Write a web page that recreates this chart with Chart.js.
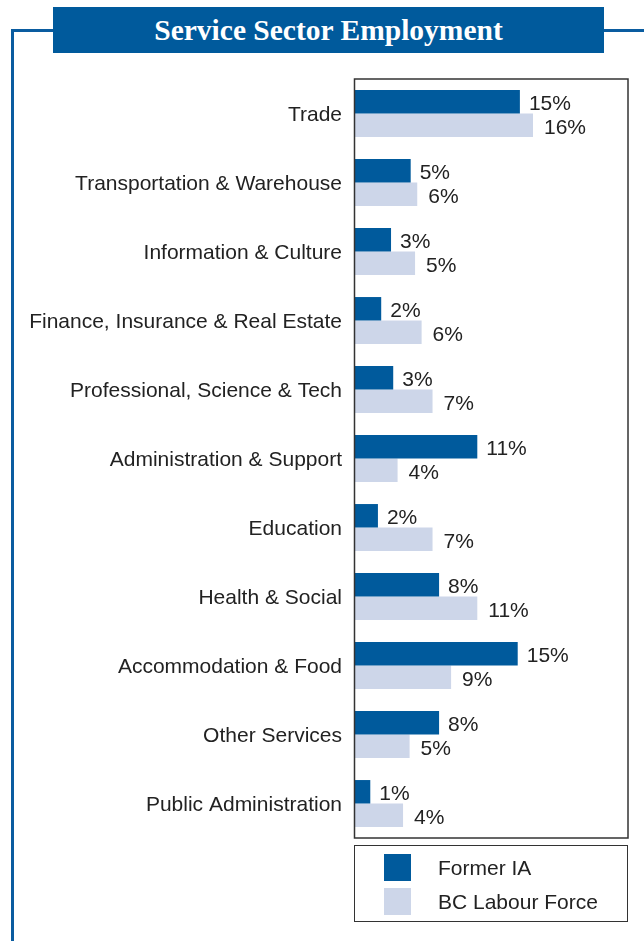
<!DOCTYPE html>
<html>
<head>
<meta charset="utf-8">
<script src="https://cdn.jsdelivr.net/npm/chart.js@4"></script>
<style>
  html, body { margin: 0; padding: 0; background: #fff; }
  body { width: 644px; height: 941px; position: relative; overflow: hidden; font-family: "Liberation Sans", Arial, sans-serif; }
  .frame-top { position: absolute; top: 29px; height: 3px; background: #0a5ca0; }
  .frame-left { position: absolute; left: 11px; top: 29px; width: 3px; height: 912px; background: #0a5ca0; }
  .title {
    position: absolute; left: 53px; top: 7px; width: 551px; height: 46px;
    background: #005a9c; color: #fff; text-align: center;
    font: bold 29.5px "Liberation Serif", "Times New Roman", serif; line-height: 47px;
  }
  #wrap { position: absolute; left: 0; top: 0; width: 644px; height: 941px; }
  .legend {
    position: absolute; left: 354px; top: 845px; width: 272px; height: 75px;
    border: 1.5px solid #333; box-sizing: content-box;
  }
  .legend div { position: absolute; left: 29px; height: 27px; font-size: 21px; color: #222; line-height: 28px; }
  .legend span { display: inline-block; width: 27px; height: 27px; vertical-align: top; margin-right: 27px; }
</style>
</head>
<body>
<div class="frame-top" style="left:11px;width:42px"></div>
<div class="frame-top" style="left:604px;width:40px"></div>
<div class="frame-left"></div>
<div class="title">Service Sector Employment</div>
<div id="wrap"><canvas id="chart"></canvas></div>
<div class="legend" id="legend"></div>
<script>
// Service sector categories
const categories = [
  'Trade', 'Transportation & Warehouse', 'Information & Culture',
  'Finance, Insurance & Real Estate', 'Professional, Science & Tech',
  'Administration & Support', 'Education', 'Health & Social',
  'Accommodation & Food', 'Other Services', 'Public Administration'
];
const seriesNames = ['Former IA', 'BC Labour Force'];

// bar lengths (%)
const formerIA = [15.1, 5.1, 3.3, 2.4, 3.5, 11.2, 2.1, 7.7, 14.9, 7.7, 1.4];
const bcLabour = [16.3, 5.7, 5.5, 6.1, 7.1, 3.9, 7.1, 11.2, 8.8, 5.0, 4.4];

// printed value labels
const formerIALabels = ['15%', '5%', '3%', '2%', '3%', '11%', '2%', '8%', '15%', '8%', '1%'];
const bcLabourLabels = ['16%', '6%', '5%', '6%', '7%', '4%', '7%', '11%', '9%', '5%', '4%'];

const colors = ['#005a9c', '#cdd6e9'];
const valueLabels = [formerIALabels, bcLabourLabels];

const boxAndLabels = {
  id: 'boxAndLabels',
  afterDatasetsDraw(chart) {
    const ctx = chart.ctx;
    const a = chart.chartArea;
    ctx.save();
    ctx.strokeStyle = '#333';
    ctx.lineWidth = 1.5;
    ctx.strokeRect(a.left - 0.5, a.top, a.right - a.left + 0.5, a.bottom - a.top);
    ctx.font = '21px "Liberation Sans", Arial, sans-serif';
    ctx.fillStyle = '#222';
    ctx.textBaseline = 'middle';
    ctx.textAlign = 'left';
    chart.data.datasets.forEach((ds, i) => {
      chart.getDatasetMeta(i).data.forEach((bar, j) => {
        ctx.fillText(valueLabels[i][j], bar.x + (i === 0 ? 9 : 11), bar.y + 2.5);
      });
    });
    ctx.restore();
  }
};

const canvas = document.getElementById('chart');
new Chart(canvas, {
  type: 'bar',
  data: {
    labels: categories,
    datasets: [
      { label: seriesNames[0], data: formerIA, backgroundColor: colors[0] },
      { label: seriesNames[1], data: bcLabour, backgroundColor: colors[1] }
    ]
  },
  options: {
    indexAxis: 'y',
    responsive: true,
    maintainAspectRatio: false,
    animation: false,
    layout: { padding: { top: 79, bottom: 103, right: 16, left: 0 } },
    datasets: { bar: { categoryPercentage: 0.68, barPercentage: 1 } },
    plugins: { legend: { display: false }, tooltip: { enabled: false } },
    scales: {
      x: { min: 0, max: 25, display: false },
      y: {
        afterFit: s => { s.width = 355; },
        grid: { display: false, drawTicks: false },
        border: { display: false },
        ticks: {
          padding: 13,
          labelOffset: 2,
          color: '#222',
          font: { family: '"Liberation Sans", Arial, sans-serif', size: 21 }
        }
      }
    }
  },
  plugins: [boxAndLabels]
});

// legend from the series
const legend = document.getElementById('legend');
seriesNames.forEach((name, i) => {
  const d = document.createElement('div');
  d.style.top = (i === 0 ? 8 : 42) + 'px';
  d.innerHTML = '<span style="background:' + colors[i] + '"></span>' + name;
  legend.appendChild(d);
});
</script>
</body>
</html>
